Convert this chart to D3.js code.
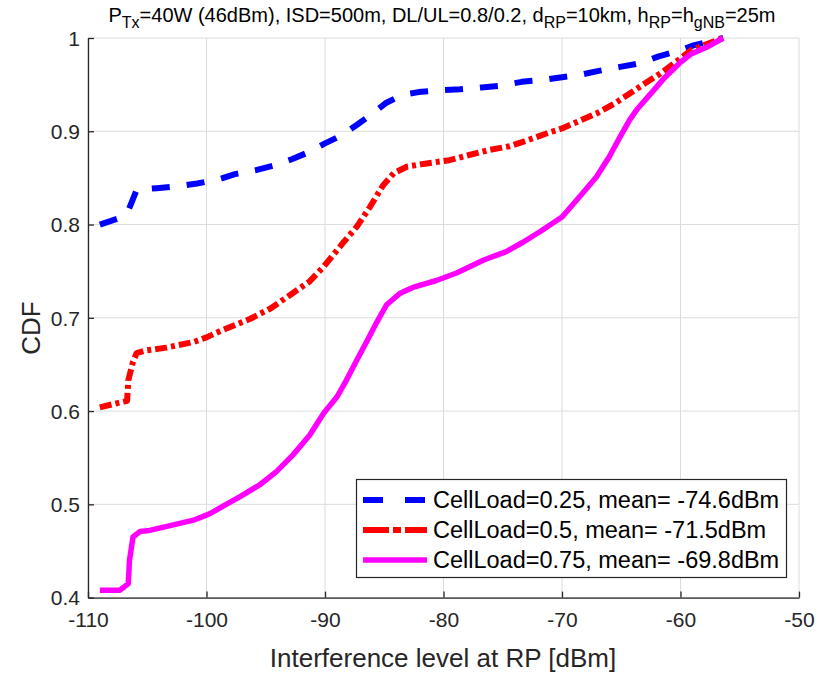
<!DOCTYPE html>
<html>
<head>
<meta charset="utf-8">
<script src="https://cdn.jsdelivr.net/npm/d3@7/dist/d3.min.js"></script>
<style>
  html, body { margin: 0; padding: 0; background: #fff; }
  svg { display: block; font-family: "Liberation Sans", Arial, Helvetica, sans-serif; }
</style>
</head>
<body>
<svg id="chart" width="821" height="677"></svg>
<script>
// Interference level (dBm) and CDF samples for each cell load
const xLoad025 = [-109.0,-107.1,-106.6,-105.9,-104.2,-102.5,-100.8,-99.1,-97.6,-95.9,-94.4,-92.8,-91.3,-90.0,-88.7,-87.3,-86.2,-84.9,-83.5,-82.1,-80.2,-78.6,-76.8,-75.1,-73.4,-71.7,-70.0,-68.3,-66.8,-65.1,-63.4,-61.9,-60.5,-58.9,-56.4];
const yLoad025 = [0.800,0.808,0.815,0.837,0.839,0.841,0.844,0.848,0.854,0.858,0.863,0.870,0.878,0.887,0.895,0.907,0.917,0.930,0.939,0.942,0.944,0.945,0.947,0.949,0.953,0.955,0.958,0.961,0.965,0.969,0.973,0.980,0.985,0.992,1.0];

const xLoad05 = [-109.0,-106.7,-106.6,-106.2,-105.9,-105.1,-103.4,-101.1,-100.0,-98.8,-96.3,-94.6,-93.0,-91.3,-90.1,-88.5,-87.3,-86.2,-85.1,-84.2,-83.1,-81.7,-79.5,-78.0,-76.1,-74.4,-73.0,-71.0,-70.0,-67.1,-65.4,-63.4,-61.7,-60.0,-59.1,-56.4];
const yLoad05 = [0.604,0.611,0.633,0.653,0.662,0.665,0.668,0.674,0.679,0.686,0.699,0.710,0.724,0.739,0.755,0.780,0.798,0.819,0.842,0.855,0.862,0.865,0.869,0.874,0.880,0.884,0.890,0.899,0.903,0.919,0.931,0.948,0.962,0.978,0.987,1.0];

const xLoad075 = [-109.0,-107.3,-106.6,-106.5,-106.2,-105.6,-104.8,-102.8,-101.1,-99.7,-98.6,-97.2,-95.5,-94.1,-92.7,-91.3,-90.1,-89.0,-88.2,-87.3,-86.5,-85.6,-84.8,-83.7,-82.5,-80.6,-78.9,-76.6,-74.7,-73.3,-71.9,-70.0,-68.5,-67.1,-66.0,-65.1,-64.3,-63.7,-62.6,-61.3,-60.0,-59.1,-57.8,-56.4];
const yLoad075 = [0.408,0.408,0.415,0.440,0.465,0.471,0.472,0.478,0.483,0.490,0.498,0.508,0.521,0.535,0.553,0.574,0.598,0.615,0.633,0.655,0.674,0.696,0.714,0.726,0.733,0.740,0.748,0.762,0.771,0.781,0.792,0.808,0.830,0.851,0.873,0.894,0.912,0.923,0.939,0.958,0.974,0.983,0.990,1.0];

const seriesNames = ["CellLoad=0.25, mean= -74.6dBm", "CellLoad=0.5, mean= -71.5dBm", "CellLoad=0.75, mean= -69.8dBm"];
const xTicks = [-110, -100, -90, -80, -70, -60, -50];
const yTicks = [0.4, 0.5, 0.6, 0.7, 0.8, 0.9, 1];

const series = [
  { name: seriesNames[0], x: xLoad025, y: yLoad025, color: "#0000ff", width: 6, dash: "18,17", legendDash: "20,22" },
  { name: seriesNames[1], x: xLoad05,  y: yLoad05,  color: "#ff0000", width: 6, dash: "12,4,4,4", legendDash: "26,4,8,4" },
  { name: seriesNames[2], x: xLoad075, y: yLoad075, color: "#ff00ff", width: 5.5, dash: null, legendDash: null }
];

const svg = d3.select("#chart");
const plotL = 88, plotR = 799, plotT = 38, plotB = 597.6;
const axisColor = "#262626";

const x = d3.scaleLinear().domain([-110, -50]).range([plotL, plotR]);
const y = d3.scaleLinear().domain([0.4, 1]).range([plotB, plotT]);

// grid
const grid = svg.append("g");
grid.selectAll("line.gx").data(xTicks).join("line")
  .attr("x1", d => x(d)).attr("x2", d => x(d))
  .attr("y1", plotT).attr("y2", plotB)
  .attr("stroke", "#dcdcdc").attr("stroke-width", 1);
grid.selectAll("line.gy").data(yTicks).join("line")
  .attr("x1", plotL).attr("x2", plotR)
  .attr("y1", d => y(d)).attr("y2", d => y(d))
  .attr("stroke", "#dcdcdc").attr("stroke-width", 1);

// curves
const line = d3.line().x(d => x(d[0])).y(d => y(d[1]));
const plot = svg.append("g");
series.forEach(s => {
  const pts = s.x.map((v, i) => [v, s.y[i]]);
  plot.append("path")
    .attr("d", line(pts))
    .attr("fill", "none")
    .attr("stroke", s.color)
    .attr("stroke-width", s.width)
    .attr("stroke-linejoin", "round")
    .attr("stroke-dasharray", s.dash);
});

// axes (inward ticks, plain hyphen minus signs)
const xAxis = d3.axisBottom(x).tickValues(xTicks).tickSizeInner(-6).tickSizeOuter(0).tickFormat(d => String(d));
const yAxis = d3.axisLeft(y).tickValues(yTicks).tickSizeInner(-6).tickSizeOuter(0).tickFormat(d => d === 1 ? "1" : d.toFixed(1));

const gx = svg.append("g").attr("transform", `translate(0,${plotB})`).call(xAxis);
const gy = svg.append("g").attr("transform", `translate(${plotL},0)`).call(yAxis);
[gx, gy].forEach(g => {
  g.select(".domain").attr("stroke", axisColor).attr("stroke-width", 1.3);
  g.selectAll(".tick line").attr("stroke", axisColor).attr("stroke-width", 1.3);
  g.selectAll(".tick text").attr("fill", axisColor).attr("font-size", 21)
    .attr("font-family", "Liberation Sans, Arial, sans-serif");
});
gx.selectAll(".tick text").attr("y", 14).attr("dy", "0.71em");
gy.selectAll(".tick text").attr("x", -8).attr("dy", "0.35em");

// axis labels
svg.append("text")
  .attr("x", 443).attr("y", 667)
  .attr("text-anchor", "middle").attr("font-size", 26).attr("fill", axisColor)
  .text("Interference level at RP [dBm]");
svg.append("text")
  .attr("transform", `translate(40,328) rotate(-90)`)
  .attr("text-anchor", "middle").attr("font-size", 26).attr("fill", axisColor)
  .text("CDF");

// title with subscripts
const title = svg.append("text")
  .attr("x", 442).attr("y", 22)
  .attr("text-anchor", "middle").attr("font-size", 20).attr("fill", "#000");
const titleParts = [
  ["P", 0], ["Tx", 1], ["=40W (46dBm), ISD=500m, DL/UL=0.8/0.2, d", 0], ["RP", 1],
  ["=10km, h", 0], ["RP", 1], ["=h", 0], ["gNB", 1], ["=25m", 0]
];
let prevSub = 0;
titleParts.forEach(([t, sub]) => {
  const ts = title.append("tspan").text(t);
  if (sub) ts.attr("font-size", 16);
  const shift = (sub ? 6 : 0) - (prevSub ? 6 : 0);
  if (shift) ts.attr("dy", shift);
  prevSub = sub;
});

// legend
const lg = svg.append("g");
lg.append("rect")
  .attr("x", 356.5).attr("y", 479.5).attr("width", 430).attr("height", 98)
  .attr("fill", "#fff").attr("stroke", axisColor).attr("stroke-width", 1.2);
series.forEach((s, i) => {
  const cy = 500 + i * 30;
  lg.append("line")
    .attr("x1", 363).attr("x2", 427).attr("y1", cy).attr("y2", cy)
    .attr("stroke", s.color).attr("stroke-width", s.width)
    .attr("stroke-dasharray", s.legendDash);
  lg.append("text")
    .attr("x", 433).attr("y", cy).attr("dy", "0.36em")
    .attr("font-size", 23.5).attr("fill", "#000")
    .text(s.name);
});
</script>
</body>
</html>
